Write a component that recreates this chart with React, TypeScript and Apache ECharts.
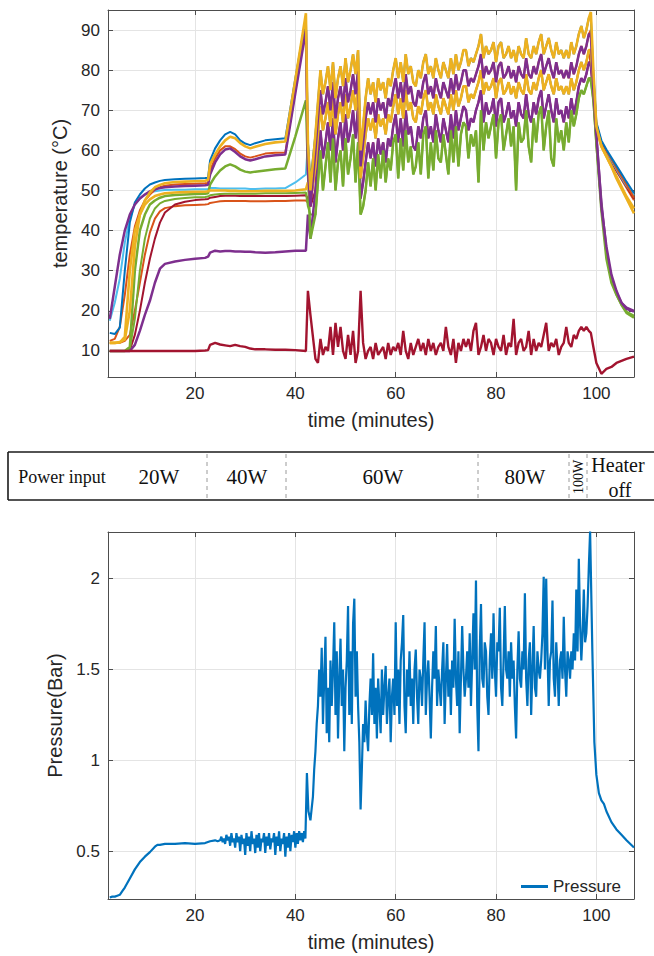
import React, { useEffect, useRef } from "react";
import * as echarts from "echarts";

// ---------- time grids (minutes) ----------
const tSmooth = [3, 4, 5, 6, 7, 8, 9, 10, 11, 12, 13, 14, 16, 18, 20, 22, 22.6, 23, 24, 25, 26, 27, 28, 29, 30, 31, 32, 34, 36, 38, 40, 42.1, 42.5, 43];
const noisyStart = 44; // temperature samples every 0.5 min from 44 to 98.5
const noisyStep = 0.5;
const tEnd = [98.9, 99.4, 100, 101, 102, 103, 104, 105, 106, 107.5];

// ---------- temperature series (°C) ----------
const yellowTopEarly = [12, 12, 12.2, 12.8, 20, 36, 44, 47.5, 49.5, 50.8, 51.4, 51.8, 52.1, 52.2, 52.3, 52.4, 52.6, 56.5, 59, 61, 62.5, 63.4, 63, 61.8, 61, 60.5, 60.9, 61.6, 62, 62.2, 77.7, 94.2, 62, 50];
const yellowTopNoisy = [
  64, 72, 80, 74, 77, 81, 75, 82, 73, 78,
  81, 76, 83, 77, 80, 84, 79, 85, 60, 66,
  73, 78, 74, 77, 72, 78, 75, 77, 73, 78,
  76, 80, 83, 78, 82, 77, 84, 79, 81, 77,
  76, 80, 78, 82, 84, 79, 81, 78, 83, 80,
  78, 82, 80, 78, 83, 79, 84, 80, 82, 85,
  85, 81, 83, 82, 84, 86, 89, 83, 86, 84,
  85, 87, 82, 86, 87, 83, 84, 86, 83, 85,
  82, 86, 84, 83, 88, 84, 83, 86, 84, 87,
  89, 84, 86, 88, 85, 83, 87, 84, 85, 83,
  85, 83, 87, 84, 86, 89, 91, 88, 90, 93,
];
const yellowTopEnd = [94.5, 80, 66, 61, 58.5, 56, 53, 50.5, 48, 44.3];

const purpleEarly = [18, 26, 34, 40, 44, 46.5, 48, 49, 49.8, 50.3, 50.6, 50.8, 51, 51.1, 51.2, 51.3, 51.4, 54, 57, 59, 60.2, 60.5, 59.6, 58.5, 57.8, 57.5, 57.8, 58.5, 58.8, 59, 74.3, 90, 55, 46];
const purpleNoisy = [
  60, 68, 75, 69, 72, 76, 70, 77, 68, 73,
  76, 71, 78, 72, 75, 79, 74, 80, 56, 62,
  68, 72, 69, 72, 67, 73, 70, 72, 68, 73,
  71, 75, 78, 73, 77, 72, 79, 74, 76, 72,
  71, 75, 73, 77, 79, 74, 76, 73, 78, 75,
  73, 77, 75, 73, 78, 74, 79, 75, 77, 80,
  80, 76, 78, 77, 79, 81, 84, 78, 81, 79,
  80, 82, 77, 81, 82, 78, 79, 81, 78, 80,
  77, 81, 79, 78, 83, 79, 78, 81, 79, 82,
  84, 79, 81, 83, 80, 78, 82, 79, 80, 78,
  80, 78, 82, 79, 81, 84, 86, 84, 86, 89,
];
const purpleEnd = [89, 75, 64, 46, 36, 29, 25, 22, 20.5, 19.8];

const yellowLowEarly = [12, 12, 12.1, 13.5, 30, 40, 44, 46.5, 47.8, 48.6, 49, 49.3, 49.5, 49.6, 49.7, 49.7, 49.8, 50, 50, 50, 50, 49.9, 49.9, 49.8, 49.8, 49.8, 49.8, 49.9, 49.9, 49.9, 50, 50.3, 52, 48];
const yellowLowNoisy = [
  56, 64, 71, 65, 68, 72, 66, 73, 64, 69,
  72, 67, 74, 68, 71, 75, 70, 76, 53, 58,
  64, 68, 65, 68, 63, 69, 66, 68, 64, 69,
  67, 71, 74, 69, 73, 68, 75, 70, 72, 68,
  67, 71, 69, 73, 75, 70, 72, 69, 74, 71,
  69, 73, 71, 69, 74, 70, 75, 71, 73, 76,
  76, 72, 74, 73, 75, 77, 80, 74, 77, 75,
  76, 78, 73, 77, 78, 74, 75, 77, 74, 76,
  73, 77, 75, 74, 79, 75, 74, 77, 75, 78,
  80, 75, 77, 79, 76, 74, 78, 75, 76, 74,
  76, 74, 78, 75, 77, 80, 82, 80, 82, 85,
];
const yellowLowEnd = [85, 76, 65.5, 61, 58.5, 56, 53.5, 51, 48.5, 45.5];

const purpleLowEarly = [10, 10, 10, 10, 10, 11.5, 15, 19, 22.5, 27, 30.5, 31.7, 32.3, 32.7, 33, 33.2, 33.5, 34.5, 35, 34.8, 34.9, 34.9, 34.8, 34.8, 34.7, 34.7, 34.6, 34.5, 34.6, 34.8, 35, 35, 44, 38];
const purpleLowNoisy = [
  50, 58, 65, 58, 62, 67, 60, 68, 57, 63,
  67, 60, 69, 62, 65, 70, 63, 71, 48, 52,
  57, 62, 58, 62, 56, 63, 59, 62, 57, 63,
  61, 66, 69, 62, 68, 61, 70, 64, 66, 61,
  60, 66, 63, 68, 70, 63, 66, 62, 69, 65,
  62, 68, 65, 62, 69, 63, 70, 65, 68, 71,
  70, 65, 68, 67, 70, 72, 75, 67, 72, 69,
  70, 73, 66, 72, 73, 67, 69, 72, 68, 70,
  66, 72, 69, 68, 74, 69, 67, 72, 69, 73,
  75, 68, 71, 74, 70, 67, 73, 69, 70, 67,
  71, 68, 73, 69, 72, 76, 78, 77, 79, 82,
];
const purpleLowEnd = [81, 74, 63, 47, 35, 28, 24.5, 22, 20.8, 20];

const greenEarly = [10, 10, 10, 10, 11, 30, 40, 44, 46.5, 47.5, 48.2, 48.6, 48.9, 49, 49.1, 49.2, 49.3, 51.5, 53.5, 55, 56, 56.5, 56, 55.2, 54.7, 54.5, 54.7, 55, 55.3, 55.5, 63.5, 72.5, 55, 38];
const greenNoisy = [
  44, 52, 60, 50, 56, 62, 52, 63, 50, 57,
  60, 51, 63, 54, 58, 64, 52, 62, 44, 46,
  50, 57, 51, 58, 50, 59, 53, 60, 52, 58,
  55, 62, 64, 53, 63, 55, 65, 57, 61, 54,
  56, 62, 54, 64, 66, 53, 62, 55, 65, 58,
  57, 64, 59, 54, 65, 57, 66, 56, 64, 67,
  66, 58, 64, 61, 65, 52, 70, 60, 67, 63,
  66, 69, 58, 67, 69, 60, 64, 68, 61, 66,
  50, 67, 62, 63, 70, 61, 57, 68, 62, 69,
  71, 60, 66, 70, 58, 56, 68, 62, 65, 60,
  67, 62, 70, 66, 69, 73, 75, 74, 76, 78,
];
const greenEnd = [78, 73, 62, 45, 33, 27, 24, 21.5, 19.5, 18.3];

const coldRedEarly = [10, 10, 10, 10, 10, 10, 10, 10, 10, 10, 10, 10, 10, 10, 10, 10.1, 10.2, 11.5, 12, 11.6, 11.4, 11.2, 11.5, 11.2, 11, 10.6, 10.4, 10.4, 10.3, 10.3, 10.2, 10, 25, 19];
const coldRedNoisy = [
  8, 7, 13, 9, 11, 10, 16, 9, 17, 11,
  16, 10, 8, 14, 9, 15, 7, 10, 25, 12,
  8, 10, 11, 8, 12, 9, 10, 11, 8, 12,
  9, 11, 10, 12, 9, 15, 10, 8, 12, 9,
  11, 13, 10, 12, 9, 13, 10, 12, 9, 11,
  12, 10, 16, 11, 9, 13, 7, 12, 10, 13,
  11, 13, 10, 15, 17, 9, 11, 14, 10, 13,
  12, 9, 13, 11, 10, 14, 9, 12, 11, 18,
  9, 12, 13, 10, 11, 15, 9, 13, 10, 12,
  11, 14, 17, 10, 12, 11, 13, 9, 11, 12,
  16, 12, 11, 14, 13, 15, 16, 15, 16, 15,
];
const coldRedEnd = [14.5, 11, 7, 4.3, 5.5, 6, 7, 7.5, 8, 8.6];

// series hidden under the bands during 44–98.5 min (they follow the band they sit in)
const blueEarly = [14.5, 14.2, 15.8, 30, 42, 47, 49, 50.5, 51.5, 52, 52.4, 52.6, 52.8, 52.9, 53, 53.1, 53.2, 57.5, 60.5, 62.5, 64, 64.6, 64, 62.5, 61.7, 61.3, 61.8, 62.5, 62.8, 63, 78, 93, 62, 52];
const blueEnd = [93, 79, 67, 62.5, 60.2, 58.2, 56.2, 54.2, 52.2, 49.3];
const orangeHighEarly = [12.5, 13, 16, 24, 34, 41, 45, 47.5, 49, 50.2, 50.8, 51.2, 51.5, 51.6, 51.7, 51.8, 51.9, 55, 58, 60, 61, 61, 60.3, 59.2, 58.5, 58.2, 58.5, 59.2, 59.4, 59.5, 75, 91, 55, 48];
const orangeHighEnd = [90, 78, 66.5, 62, 59.8, 57.8, 55.6, 53.5, 51.5, 48.2];
const lightBlueEarly = [17.5, 22, 28, 37, 43, 46.5, 48, 49, 49.5, 49.8, 50, 50.1, 50.2, 50.2, 50.3, 50.3, 50.4, 50.6, 50.6, 50.5, 50.5, 50.5, 50.5, 50.5, 50.5, 50.4, 50.4, 50.5, 50.5, 50.6, 52, 54, 62, 50];
const lightBlueEnd = [84, 76, 66, 61.8, 59.5, 57.5, 55.3, 53.2, 51.2, 48.7];
const darkRedEarly = [10, 10, 10, 10, 10.2, 14, 20, 27, 33, 38, 42, 44.5, 46.5, 47.2, 47.6, 47.8, 47.9, 48.2, 48.4, 48.6, 48.7, 48.7, 48.7, 48.6, 48.6, 48.6, 48.6, 48.6, 48.6, 48.6, 48.7, 48.8, 48, 46];
const darkRedEnd = [82, 75, 66, 61.5, 59.3, 57.2, 55, 53, 51, 48];
const orangeLowEarly = [12, 12, 12, 12.5, 14, 20, 27, 34, 39.5, 43, 44.8, 45.6, 46.1, 46.3, 46.4, 46.5, 46.6, 46.9, 47.1, 47.3, 47.4, 47.4, 47.4, 47.4, 47.4, 47.3, 47.3, 47.3, 47.4, 47.4, 47.5, 47.5, 47, 46];
const orangeLowEnd = [81, 74, 65.5, 61.2, 59, 57, 54.8, 52.8, 50.7, 47.6];
const greenLowEarly = [10, 10, 10, 10, 10.5, 18, 30, 38, 43, 45.5, 46.8, 47.4, 47.9, 48.1, 48.3, 48.4, 48.5, 48.8, 49, 49.1, 49.2, 49.2, 49.2, 49.2, 49.2, 49.2, 49.2, 49.3, 49.3, 49.3, 49.4, 49.5, 46, 44];
const greenLowEnd = [77, 72, 61, 46, 34, 27.5, 24, 21.5, 19.8, 18.8];

// ---------- pressure (bar) ----------
const pressureWarmup = [[3, 0.245], [3.5, 0.25], [4, 0.25], [4.5, 0.255], [5, 0.26], [5.5, 0.28], [6, 0.3], [7, 0.35], [8, 0.4], [9, 0.44], [10, 0.47], [11, 0.495], [12, 0.525], [12.5, 0.535], [13, 0.535], [14, 0.54], [16, 0.54], [18, 0.545], [20, 0.54], [22, 0.545], [23, 0.555], [24, 0.56], [24.5, 0.555]];
const pressureMidStart = 25; // every 0.25 min, 25 → 42
const pressureMidStep = 0.25;
const pressureMidVals = [
  0.56, 0.58, 0.55, 0.57, 0.54, 0.59, 0.56, 0.58, 0.53, 0.6, 0.55, 0.57, 0.52, 0.6, 0.55, 0.58, 0.5, 0.59, 0.54, 0.57,
  0.48, 0.6, 0.53, 0.58, 0.5, 0.61, 0.54, 0.57, 0.49, 0.59, 0.52, 0.6, 0.5, 0.57, 0.55, 0.6, 0.49, 0.58, 0.53, 0.6,
  0.51, 0.57, 0.55, 0.6, 0.48, 0.58, 0.53, 0.61, 0.5, 0.57, 0.54, 0.6, 0.47, 0.58, 0.52, 0.6, 0.5, 0.59, 0.55, 0.61,
  0.52, 0.6, 0.54, 0.61, 0.56, 0.6, 0.55, 0.61, 0.57,
];
const pressureJump = [[42.3, 0.93], [42.6, 0.72], [43, 0.67], [43.5, 0.8], [43.75, 0.95]];
const pressureHotStart = 44; // every 0.25 min, 44 → 98.75
const pressureHotStep = 0.25;
const pressureHotVals = [
  1.05, 1.2, 1.3, 1.5, 1.35, 1.62, 1.2, 1.45, 1.68, 1.15, 1.4, 1.1, 1.55, 1.3, 1.5, 1.76, 1.25, 1.6, 1.12, 1.45,
  1.67, 1.3, 1.5, 1.05, 1.4, 1.55, 1.85, 1.25, 1.6, 1.2, 1.75, 1.89, 1.35, 1.6, 1.3, 1.1, 0.73, 0.95, 1.2, 1.1,
  1.33, 1.15, 1.05, 1.3, 1.45, 1.25, 1.59, 1.2, 1.4, 1.12, 1.45, 1.3, 1.15, 1.5, 1.25, 1.4, 1.52, 1.2, 1.35, 1.45,
  1.1, 1.35, 1.45, 1.25, 1.76, 1.3, 1.5, 1.2, 1.55, 1.65, 1.8, 1.3, 1.15, 1.5, 1.35, 1.6, 1.3, 1.45, 1.2, 1.5,
  1.61, 1.35, 1.2, 1.5, 1.45, 1.3, 1.55, 1.76, 1.25, 1.45, 1.55, 1.35, 1.12, 1.4, 1.6, 1.45, 1.74, 1.3, 1.5, 1.4,
  1.3, 1.5, 1.65, 1.2, 1.45, 1.64, 1.35, 1.5, 1.25, 1.55, 1.4, 1.78, 1.45, 1.3, 1.6, 1.15, 1.45, 1.74, 1.5, 1.35,
  1.45, 1.6, 1.4, 1.7, 1.3, 1.55, 1.81, 1.5, 1.99, 1.3, 1.05, 1.6, 1.86, 1.45, 1.4, 1.65, 1.6, 1.35, 1.25, 1.55,
  1.7, 1.45, 1.81, 1.5, 1.35, 1.65, 1.6, 1.84, 1.4, 1.3, 1.55, 1.85, 1.5, 1.45, 1.6, 1.35, 1.65, 1.45, 1.55, 1.3,
  1.12, 1.5, 1.71, 1.45, 1.4, 1.6, 1.5, 1.92, 1.45, 1.3, 1.55, 1.65, 1.25, 1.5, 1.74, 1.4, 1.35, 1.6, 1.5, 1.45,
  1.55, 1.7, 2.01, 1.5, 2.0, 1.6, 1.3, 1.55, 1.6, 1.88, 1.45, 1.35, 1.65, 1.5, 1.3, 1.55, 1.6, 1.45, 1.79, 1.5,
  1.35, 1.6, 1.55, 1.45, 1.6, 1.5, 1.7, 1.55, 1.94, 1.6, 2.11, 1.75, 1.55, 1.7, 1.94, 1.65, 1.7, 1.85, 2.07, 2.26,
];
const pressureCool = [[99.2, 1.6], [99.6, 1.1], [100, 0.92], [100.5, 0.82], [101, 0.78], [101.5, 0.76], [102, 0.72], [103, 0.66], [104, 0.62], [105, 0.59], [106, 0.56], [107.5, 0.52]];

// ---------- power-input strip ----------
const powerLabels = ["20W", "40W", "60W", "80W"];

const zip = (ts: number[], vs: number[]) => {
  const n = Math.min(ts.length, vs.length);
  const out: number[][] = [];
  for (let i = 0; i < n; i++) out.push([ts[i], vs[i]]);
  return out;
};
const sampled = (start: number, step: number, vs: number[]) => vs.map((v, i) => [start + step * i, v]);

const TEXT = "#262626";
const BOX = "#4d4d4d";
const GRIDC = "#e4e4e4";
const SANS = "'Liberation Sans', Arial, Helvetica, sans-serif";
const SERIF = "'Liberation Serif', 'Times New Roman', serif";

export default function App() {
  const ref = useRef<HTMLDivElement>(null);

  useEffect(() => {
    if (!ref.current) return;
    const chart = echarts.init(ref.current, null, { renderer: "svg" });

    const temps = [
      { c: "#D95319", e: orangeLowEarly, m: yellowLowNoisy, z: orangeLowEnd, w: 2 },
      { c: "#A2142F", e: darkRedEarly, m: purpleLowNoisy, z: darkRedEnd, w: 2 },
      { c: "#77AC30", e: greenLowEarly, m: greenNoisy, z: greenLowEnd, w: 2 },
      { c: "#4DBEEE", e: lightBlueEarly, m: yellowLowNoisy, z: lightBlueEnd, w: 2 },
      { c: "#D95319", e: orangeHighEarly, m: purpleNoisy, z: orangeHighEnd, w: 2 },
      { c: "#0072BD", e: blueEarly, m: yellowTopNoisy, z: blueEnd, w: 2 },
      { c: "#7E2F8E", e: purpleLowEarly, m: purpleLowNoisy, z: purpleLowEnd, w: 2.5 },
      { c: "#77AC30", e: greenEarly, m: greenNoisy, z: greenEnd, w: 2.5 },
      { c: "#EDB120", e: yellowLowEarly, m: yellowLowNoisy, z: yellowLowEnd, w: 2.6 },
      { c: "#7E2F8E", e: purpleEarly, m: purpleNoisy, z: purpleEnd, w: 2.5 },
      { c: "#EDB120", e: yellowTopEarly, m: yellowTopNoisy, z: yellowTopEnd, w: 2.6 },
      { c: "#A2142F", e: coldRedEarly, m: coldRedNoisy, z: coldRedEnd, w: 2.4 },
    ];

    const tempSeries = temps.map((s, i) => ({
      type: "line",
      name: "T" + (i + 1),
      xAxisIndex: 0,
      yAxisIndex: 0,
      symbol: "none",
      showSymbol: false,
      lineStyle: { color: s.c, width: s.w },
      itemStyle: { color: s.c },
      data: [...zip(tSmooth, s.e), ...sampled(noisyStart, noisyStep, s.m), ...zip(tEnd, s.z)],
    }));

    const pressureData = [
      ...pressureWarmup,
      ...sampled(pressureMidStart, pressureMidStep, pressureMidVals),
      ...pressureJump,
      ...sampled(pressureHotStart, pressureHotStep, pressureHotVals),
      ...pressureCool,
    ];

    const mkX = (gridIndex: number, min: number, max: number) => [
      {
        type: "value", gridIndex, min, max, position: "bottom", splitNumber: 5,
        axisLine: { show: true, onZero: false, lineStyle: { color: BOX, width: 1 } },
        axisTick: { show: true, inside: true, length: 5, lineStyle: { color: BOX } },
        axisLabel: { color: TEXT, fontSize: 17, fontFamily: SANS, margin: 8, showMinLabel: false, showMaxLabel: false },
        splitLine: { show: true, lineStyle: { color: GRIDC, width: 1 } },
        name: "time (minutes)", nameLocation: "middle", nameGap: 33,
        nameTextStyle: { color: TEXT, fontSize: 20, fontFamily: SANS },
      },
      {
        type: "value", gridIndex, min, max, position: "top", splitNumber: 5,
        axisLine: { show: true, onZero: false, lineStyle: { color: BOX, width: 1 } },
        axisTick: { show: true, inside: true, length: 5, lineStyle: { color: BOX } },
        axisLabel: { show: false }, splitLine: { show: false },
      },
    ];
    const mkY = (gridIndex: number, min: number, max: number, step: number, name: string, gap: number) => [
      {
        type: "value", gridIndex, min, max, position: "left", minInterval: step, maxInterval: step,
        axisLine: { show: true, onZero: false, lineStyle: { color: BOX, width: 1 } },
        axisTick: { show: true, inside: true, length: 5, lineStyle: { color: BOX } },
        axisLabel: { color: TEXT, fontSize: 17, fontFamily: SANS, margin: 8, showMinLabel: false, showMaxLabel: false },
        splitLine: { show: true, lineStyle: { color: GRIDC, width: 1 } },
        name, nameLocation: "middle", nameGap: gap,
        nameTextStyle: { color: TEXT, fontSize: 20, fontFamily: SANS },
      },
      {
        type: "value", gridIndex, min, max, position: "right", minInterval: step, maxInterval: step,
        axisLine: { show: true, onZero: false, lineStyle: { color: BOX, width: 1 } },
        axisTick: { show: true, inside: true, length: 5, lineStyle: { color: BOX } },
        axisLabel: { show: false }, splitLine: { show: false },
      },
    ];

    const dividers = [207, 286, 478, 569, 587];
    const labelX = [159, 247, 383, 525];

    const graphic: any[] = [
      { type: "line", shape: { x1: 8, y1: 452, x2: 660, y2: 452 }, style: { stroke: "#1a1a1a", lineWidth: 1.6 } },
      { type: "line", shape: { x1: 8, y1: 500, x2: 660, y2: 500 }, style: { stroke: "#1a1a1a", lineWidth: 1.6 } },
      { type: "line", shape: { x1: 8, y1: 452, x2: 8, y2: 500 }, style: { stroke: "#1a1a1a", lineWidth: 1.6 } },
      ...dividers.map((x) => ({
        type: "line", shape: { x1: x, y1: 454, x2: x, y2: 498 },
        style: { stroke: "#9a9a9a", lineWidth: 1, lineDash: [4, 4] },
      })),
      { type: "text", x: 62, y: 477, style: { text: "Power input", fill: "#111", font: `18px ${SERIF}`, textAlign: "center", textVerticalAlign: "middle" } },
      ...powerLabels.map((t, i) => ({
        type: "text", x: labelX[i], y: 477,
        style: { text: t, fill: "#111", font: `21px ${SERIF}`, textAlign: "center", textVerticalAlign: "middle" },
      })),
      { type: "text", x: 578, y: 477, rotation: Math.PI / 2, style: { text: "100W", fill: "#111", font: `14px ${SERIF}`, textAlign: "center", textVerticalAlign: "middle" } },
      { type: "text", x: 618, y: 465, style: { text: "Heater", fill: "#111", font: `20px ${SERIF}`, textAlign: "center", textVerticalAlign: "middle" } },
      { type: "text", x: 620, y: 490, style: { text: "off", fill: "#111", font: `20px ${SERIF}`, textAlign: "center", textVerticalAlign: "middle" } },
    ];

    const option: any = {
      animation: false,
      backgroundColor: "#ffffff",
      grid: [
        { left: 108, top: 10, width: 526, height: 367, containLabel: false },
        { left: 108, top: 532, width: 526, height: 367, containLabel: false },
      ],
      xAxis: [...mkX(0, 2.65, 107.5), ...mkX(1, 2.65, 107.5)],
      yAxis: [...mkY(0, 3.5, 95, 10, "temperature (°C)", 31), ...mkY(1, 0.237, 2.257, 0.5, "Pressure(Bar)", 37)],
      legend: {
        show: true,
        data: [{ name: "Pressure", icon: "rect" }],
        left: 516, top: 873, itemWidth: 27, itemHeight: 3, itemGap: 6,
        textStyle: { color: TEXT, fontSize: 17, fontFamily: SANS },
      },
      graphic,
      series: [
        ...tempSeries,
        {
          type: "line", name: "Pressure", xAxisIndex: 2, yAxisIndex: 2,
          symbol: "none", showSymbol: false,
          lineStyle: { color: "#0072BD", width: 2.2 }, itemStyle: { color: "#0072BD" },
          data: pressureData,
        },
      ],
    };
    chart.setOption(option);
    return () => chart.dispose();
  }, []);

  return <div ref={ref} style={{ position: "absolute", left: 0, top: 0, width: 654, height: 956, background: "#fff" }} />;
}
